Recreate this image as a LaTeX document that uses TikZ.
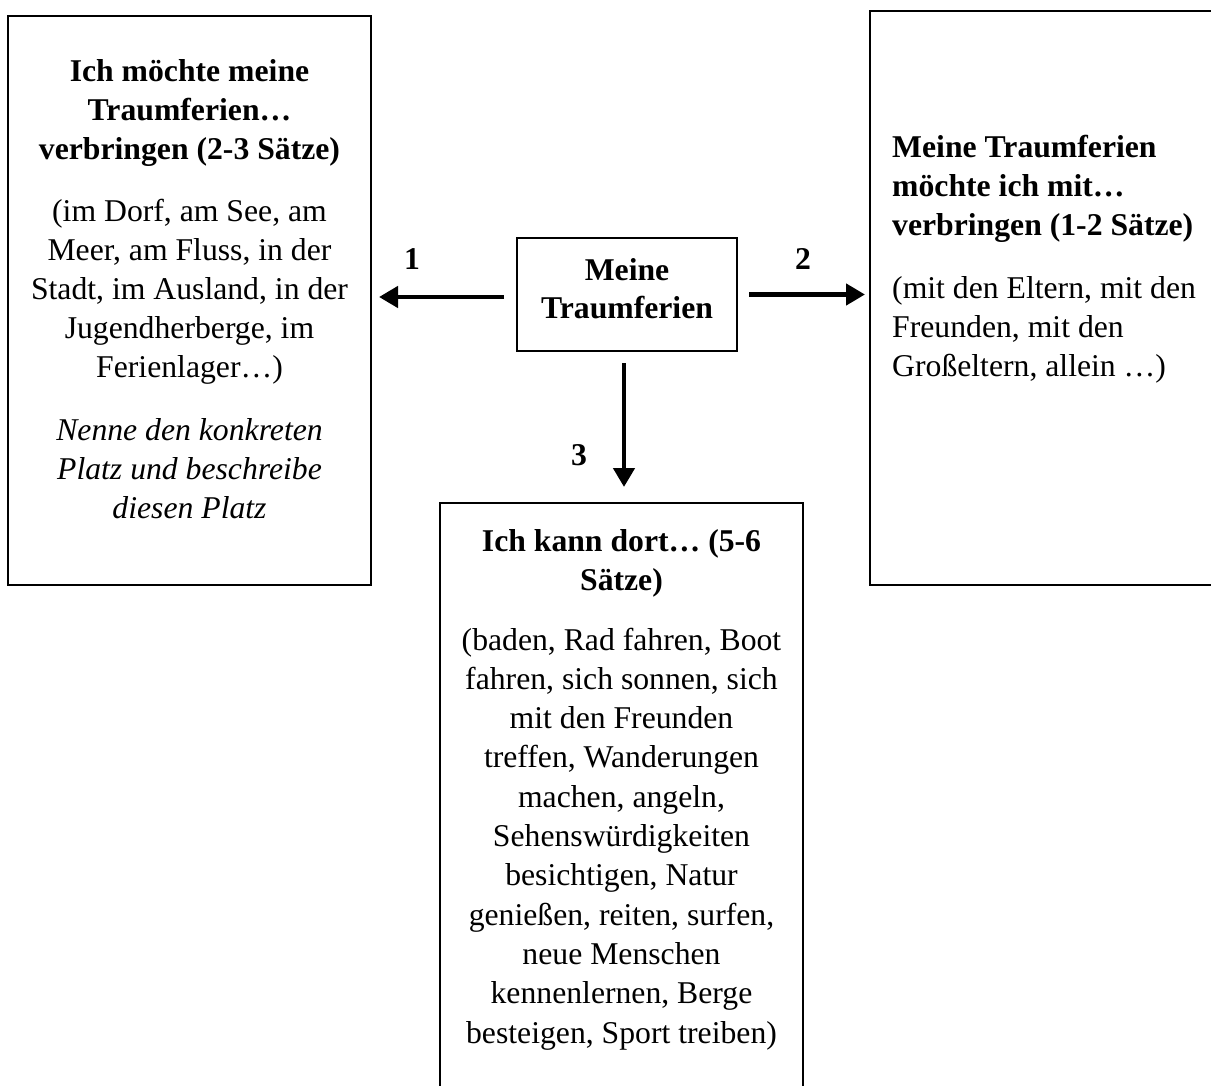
\documentclass[tikz,border=0pt]{standalone}
\usepackage{fontspec}
\setmainfont{Liberation Serif}
\usetikzlibrary{arrows.meta}
\tikzset{
  box/.style={draw, line width=2pt, rectangle, inner sep=0pt},
  txt/.style={anchor=base, inner sep=0pt, align=center, font=\fontsize{31.7}{39}\selectfont},
  btxt/.style={txt, font=\fontsize{31.7}{39}\selectfont\bfseries},
  itxt/.style={txt, font=\fontsize{31.7}{39}\selectfont\itshape},
  arr/.style={line width=4.5pt, -{Triangle[length=19pt,width=21pt]}},
}
\begin{document}
\begin{tikzpicture}[x=1pt,y=-1pt]
\useasboundingbox (0,0) rectangle (1211,1086);
% boxes
\node[box, minimum width=363pt, minimum height=569pt] (left) at (189.5,300.5) {};
\node[box, minimum width=220pt, minimum height=113pt] (mid) at (627,294.5) {};
\node[box, minimum width=360pt, minimum height=574pt] (right) at (1050,298) {};
\node[box, minimum width=363pt, minimum height=600pt] (bot) at (621.5,803) {};
% left texts (anchor = baseline of last line)
\node[btxt] (l1) at (189.5,160) {Ich möchte meine\\Traumferien…\\verbringen (2-3 Sätze)};
\node[txt] (l2) at (189.5,377) {(im Dorf, am See, am\\Meer, am Fluss, in der\\Stadt, im Ausland, in der\\Jugendherberge, im\\Ferienlager…)};
\node[itxt] (l3) at (189.5,518) {Nenne den konkreten\\Platz und beschreibe\\diesen Platz};
% middle
\node[btxt] (m1) at (627,319) {Meine\\Traumferien};
% right texts
\node[btxt, anchor=base west, align=left] (r1) at (892,236) {Meine Traumferien\\möchte ich mit…\\verbringen (1-2 Sätze)};
\node[txt, anchor=base west, align=left] (r2) at (892,376) {(mit den Eltern, mit den\\Freunden, mit den\\Großeltern, allein …)};
% bottom texts
\node[btxt] (b1) at (621.5,590) {Ich kann dort… (5-6\\Sätze)};
\node[txt, font=\fontsize{31.7}{39.3}\selectfont] (b2) at (621.5,1043) {(baden, Rad fahren, Boot\\fahren, sich sonnen, sich\\mit den Freunden\\treffen, Wanderungen\\machen, angeln,\\Sehenswürdigkeiten\\besichtigen, Natur\\genießen, reiten, surfen,\\neue Menschen\\kennenlernen, Berge\\besteigen, Sport treiben)};
% arrows
\draw[arr] ([xshift=-12pt,yshift=-2.5pt]mid.west) -- ([xshift=7pt,yshift=-2.5pt]left.east |- mid.west);
\draw[arr] ([xshift=11pt]mid.east) -- ([xshift=-4pt]right.west |- mid.east);
\draw[arr] ([xshift=-3pt,yshift=-11pt]mid.south) -- ([xshift=-3pt,yshift=15pt]mid.south |- bot.north);
% labels
\node[btxt] (n1) at (412,270) {1};
\node[btxt] (n2) at (803,270) {2};
\node[btxt] (n3) at (579,465) {3};
\end{tikzpicture}
\end{document}
